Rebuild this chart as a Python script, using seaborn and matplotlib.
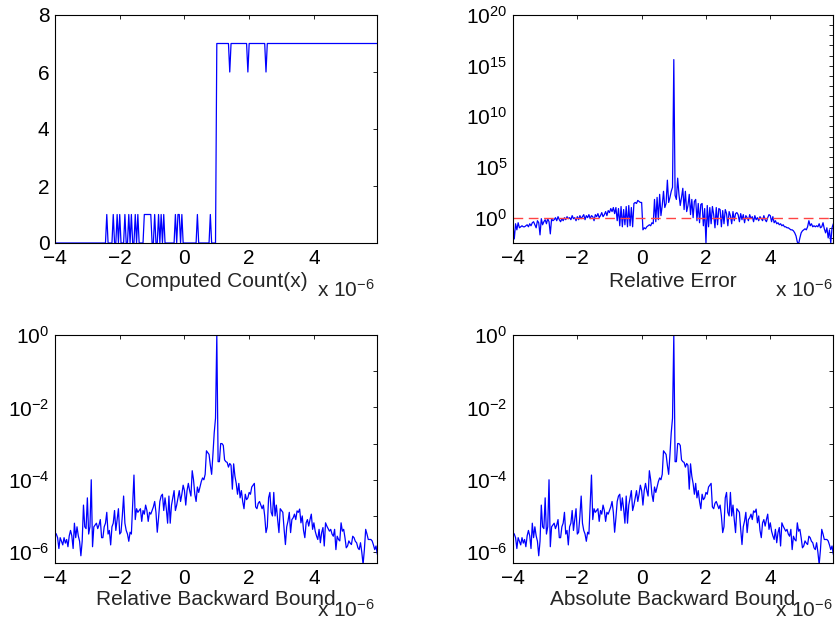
import numpy as np
import matplotlib
matplotlib.use("Agg")
import matplotlib.pyplot as plt
import matplotlib.ticker as mticker
import seaborn as sns

# ---------------- data (x in units of 1e-6) ----------------
x_start = -4.0
x_step = 0.04
n_points = 250

# Computed Count(x), one digit per sample, 25 samples per unit of x
count_digits = (
    "0000000000000000000000000"
    "0000000000000001000010010"
    "1000100101001010000111111"
    "0010010101000000001011010"
    "0000000000100000000010000"
    "7777777777677777777777776"
    "7777777777777677777777777"
    "7777777777777777777777777"
    "7777777777777777777777777"
    "7777777777777777777777777"
)
count_values = [int(c) for c in count_digits]

# Relative error, log10 values
rel_error_log10 = [
    -0.7, -2.1, -0.6, -1.2, -0.5, -1.0, -0.9, -0.8, -0.9, -0.9, -0.8, -0.7, -0.9, -0.6, -0.8, -0.5, -0.4, -0.7, -1.0, -0.3, -0.5, -1.7, -0.1, -0.7, -0.4,
    -0.2, -0.6, -0.1, -0.4, -1.6, -0.1, -0.3, -0.2, 0.0, -0.3, 0.1, -0.2, -0.4, -0.1, -0.3, 0.0, -0.2, 0.1, -0.1, 0.0, -0.2, 0.2, -0.1, 0.0, -0.3,
    0.1, -0.2, 0.2, -0.1, 0.1, 0.3, -0.2, 0.2, 0.0, 0.3, -0.1, 0.2, 0.1, -0.3, 0.3, 0.1, 0.4, 0.0, 0.2, 0.5, 0.1, 0.3, 0.6, 0.2, 0.7,
    0.5, 0.9, 0.6, 1.0, 0.4, 1.0, -0.3, 0.9, -0.8, 1.1, -0.9, 0.8, -0.7, 1.1, -0.9, 1.2, -0.8, 1.0, -0.9, 1.4, 1.5, 1.4, 1.7, 1.6, 1.5,
    1.5, -1.2, -1.0, -1.1, -0.9, -0.8, -0.7, -0.8, -0.5, -0.6, 1.8, -0.4, 2.0, -0.2, 2.3, 0.2, 1.2, 2.6, 1.0, 1.4, 3.7, 1.5, 2.0, 2.6, 3.0,
    15.6, 2.2, 1.8, 3.9, 2.3, 1.2, 2.0, 2.9, 0.8, 2.6, 0.6, 1.2, 2.3, 0.3, 1.8, 0.0, 1.6, 1.8, -0.3, 1.4, -0.5, 1.3, 1.4, -0.8, 0.9,
    -2.5, 1.2, -0.9, 1.0, -0.6, 1.1, 0.3, -1.0, 1.0, -0.7, 0.9, 0.8, -0.9, 0.7, -0.6, 0.8, 0.4, -0.8, 0.6, 0.2, -0.6, 0.6, -0.3, 0.4, 0.5,
    0.3, -0.4, 0.4, -0.2, 0.3, -0.5, 0.2, 0.0, -0.3, 0.3, -0.1, 0.1, -0.4, 0.2, -0.2, 0.0, -0.3, 0.1, -0.1, -0.3, 0.2, -0.2, -0.4, 0.0, 0.3,
    0.2, -0.4, 0.1, -0.5, -0.3, -0.6, -0.5, -0.7, -0.6, -0.8, -0.7, -0.9, -0.9, -1.0, -1.0, -1.1, -1.2, -1.2, -1.3, -1.5, -1.8, -2.4, -2.6, -2.0, -1.5,
    -1.3, -1.2, -1.1, -1.2, -0.9, -0.3, -0.8, -0.6, -0.9, -0.8, -0.9, -0.8, -0.9, -0.6, -1.0, -0.9, -0.5, -1.1, -1.5, -1.0, -2.0, -1.2, -2.5, -1.0, -0.6,
]
rel_error_threshold = 1.0

# Relative backward bound, log10 values
rel_bound_log10 = [
    -5.46, -5.5, -5.6, -5.9, -5.6, -5.7, -5.8, -5.6, -5.75, -5.65, -5.85, -5.55, -5.4, -5.55, -5.9, -5.2, -5.6, -5.3, -5.55, -5.7, -6.1, -5.7, -4.7, -5.3, -5.35,
    -4.5, -5.5, -5.3, -4.0, -5.85, -5.3, -5.25, -5.2, -5.35, -5.25, -5.1, -5.6, -5.6, -5.3, -5.2, -4.9, -5.5, -5.4, -5.8, -5.3, -5.2, -4.85, -5.4, -5.1, -4.8,
    -5.5, -5.45, -5.0, -4.45, -5.2, -5.4, -5.5, -5.7, -5.45, -5.5, -4.7, -3.87, -5.1, -4.8, -4.9, -4.85, -4.8, -5.15, -4.85, -4.95, -4.7, -4.85, -5.15, -4.9, -4.95,
    -4.85, -4.75, -4.6, -4.9, -5.45, -5.05, -4.6, -4.45, -4.4, -4.85, -4.5, -4.8, -5.2, -4.45, -5.2, -4.7, -4.5, -4.3, -4.85, -4.7, -4.5, -4.3, -4.6, -4.4, -4.15,
    -4.3, -4.7, -4.3, -4.1, -4.3, -4.45, -3.75, -4.0, -4.4, -4.6, -4.2, -4.35, -4.2, -4.05, -3.95, -4.0, -3.85, -3.2, -3.25, -3.3, -3.6, -3.85, -3.3, -2.7, -2.3,
    0.0, -3.5, -3.5, -3.0, -3.0, -3.05, -3.45, -3.5, -3.52, -3.65, -3.55, -3.6, -4.26, -3.56, -3.9, -4.1, -4.4, -4.1, -4.5, -4.3, -4.6, -4.8, -4.4, -4.55, -4.5,
    -4.35, -4.4, -4.2, -4.15, -4.1, -4.75, -4.8, -4.65, -4.6, -4.7, -4.8, -4.7, -5.0, -5.46, -5.3, -4.5, -4.35, -4.9, -5.0, -4.35, -5.0, -4.7, -5.1, -5.46, -4.8,
    -4.85, -4.9, -5.37, -5.79, -5.3, -5.14, -4.9, -5.46, -5.1, -5.05, -4.95, -5.1, -4.86, -4.9, -4.81, -5.19, -5.0, -5.4, -5.6, -5.19, -5.1, -5.28, -5.1, -4.95, -5.37,
    -5.19, -5.42, -5.55, -5.65, -5.37, -5.74, -5.46, -5.32, -5.83, -5.19, -5.28, -5.35, -5.42, -5.37, -5.5, -5.56, -5.37, -5.93, -5.56, -5.65, -5.69, -5.19, -5.42, -5.37, -5.6,
    -5.88, -5.83, -5.69, -5.75, -5.79, -5.56, -5.6, -5.7, -5.74, -5.88, -5.93, -5.74, -6.0, -6.34, -5.93, -5.37, -5.5, -5.65, -5.65, -5.65, -5.69, -5.8, -5.93, -5.83, -6.06,
]
# Absolute backward bound is visually identical to the relative one
abs_bound_log10 = list(rel_bound_log10)

x_ticks = [-4, -2, 0, 2, 4]
x_limits = (-4.0, 5.95)
titles = ["Computed Count(x)", "Relative Error",
          "Relative Backward Bound", "Absolute Backward Bound"]

# ---------------- style ----------------
sns.set_style("white")
plt.rcParams["font.family"] = ["Liberation Sans", "DejaVu Sans"]
plt.rcParams["mathtext.default"] = "regular"
plt.rcParams["axes.unicode_minus"] = True

FS = 15
LINE_COLOR = "#0000ff"

x_vals = x_start + x_step * np.arange(n_points)

fig = plt.figure(figsize=(8.38, 6.23), dpi=100)
W, H = 838.0, 623.0


def make_axes(left_px, top_px, width_px, height_px):
    return fig.add_axes([left_px / W, 1 - (top_px + height_px) / H,
                         width_px / W, height_px / H])


ax_tl = make_axes(55, 15, 322, 228)
ax_tr = make_axes(513, 15, 320, 228)
ax_bl = make_axes(55, 335, 322, 228)
ax_br = make_axes(513, 335, 320, 228)


def style_axes(ax, label, offset_x, label_y, offset_y):
    for s in ax.spines.values():
        s.set_linewidth(0.8)
        s.set_color("black")
        s.set_visible(True)
    ax.tick_params(which="both", direction="in", top=True, right=True,
                   length=3.0, width=0.6, colors="black", labelsize=FS)
    ax.tick_params(axis="x", which="both", pad=4)
    ax.tick_params(axis="y", which="both", pad=4)
    ax.set_xlim(*x_limits)
    ax.set_xticks(x_ticks)
    ax.xaxis.set_minor_locator(mticker.NullLocator())
    ax.set_xlabel(label, fontsize=FS)
    ax.xaxis.set_label_coords(0.5, label_y)
    ax.xaxis.label.set_va("center")
    ax.set_ylabel("")
    ax.text(offset_x, offset_y, r"x $10^{-6}$", transform=ax.transAxes,
            ha="right", va="baseline", fontsize=FS)
    ax.grid(False)


# Top-left: computed count
sns.lineplot(x=x_vals, y=count_values, ax=ax_tl, color=LINE_COLOR,
             linewidth=0.9, estimator=None, sort=False)
ax_tl.set_ylim(0, 8)
ax_tl.set_yticks([0, 2, 4, 6, 8])
style_axes(ax_tl, titles[0], 0.994, -0.167, -0.237)

# Top-right: relative error
rel_error = 10.0 ** np.array(rel_error_log10)
sns.lineplot(x=x_vals, y=rel_error, ax=ax_tr, color=LINE_COLOR,
             linewidth=0.9, estimator=None, sort=False)
ax_tr.axhline(rel_error_threshold, color="#ff4444", linewidth=1.0,
              linestyle=(0, (7, 4)))
ax_tr.set_yscale("log")
ax_tr.set_ylim(10 ** -2.5, 1e20)
ax_tr.yaxis.set_major_locator(mticker.FixedLocator([1e0, 1e5, 1e10, 1e15, 1e20]))
ax_tr.yaxis.set_minor_locator(mticker.FixedLocator([10.0 ** k for k in range(-2, 21)]))
ax_tr.yaxis.set_major_formatter(mticker.LogFormatterSciNotation())
ax_tr.yaxis.set_minor_formatter(mticker.NullFormatter())
style_axes(ax_tr, titles[1], 1.0, -0.167, -0.237)

# Bottom: backward bounds
for ax, vals, title, offx in [(ax_bl, rel_bound_log10, titles[2], 0.994),
                              (ax_br, abs_bound_log10, titles[3], 1.0)]:
    yv = 10.0 ** np.array(vals)
    sns.lineplot(x=x_vals, y=yv, ax=ax, color=LINE_COLOR,
                 linewidth=0.9, estimator=None, sort=False)
    ax.set_yscale("log")
    ax.set_ylim(10 ** -6.3, 1.0)
    ax.yaxis.set_major_locator(mticker.FixedLocator([1e-6, 1e-4, 1e-2, 1e0]))
    ax.yaxis.set_minor_locator(mticker.FixedLocator([1e-5, 1e-3, 1e-1]))
    ax.yaxis.set_major_formatter(mticker.LogFormatterSciNotation())
    ax.yaxis.set_minor_formatter(mticker.NullFormatter())
    style_axes(ax, title, offx, -0.158, -0.235)

fig.savefig("out.png", dpi=100, facecolor="white")
